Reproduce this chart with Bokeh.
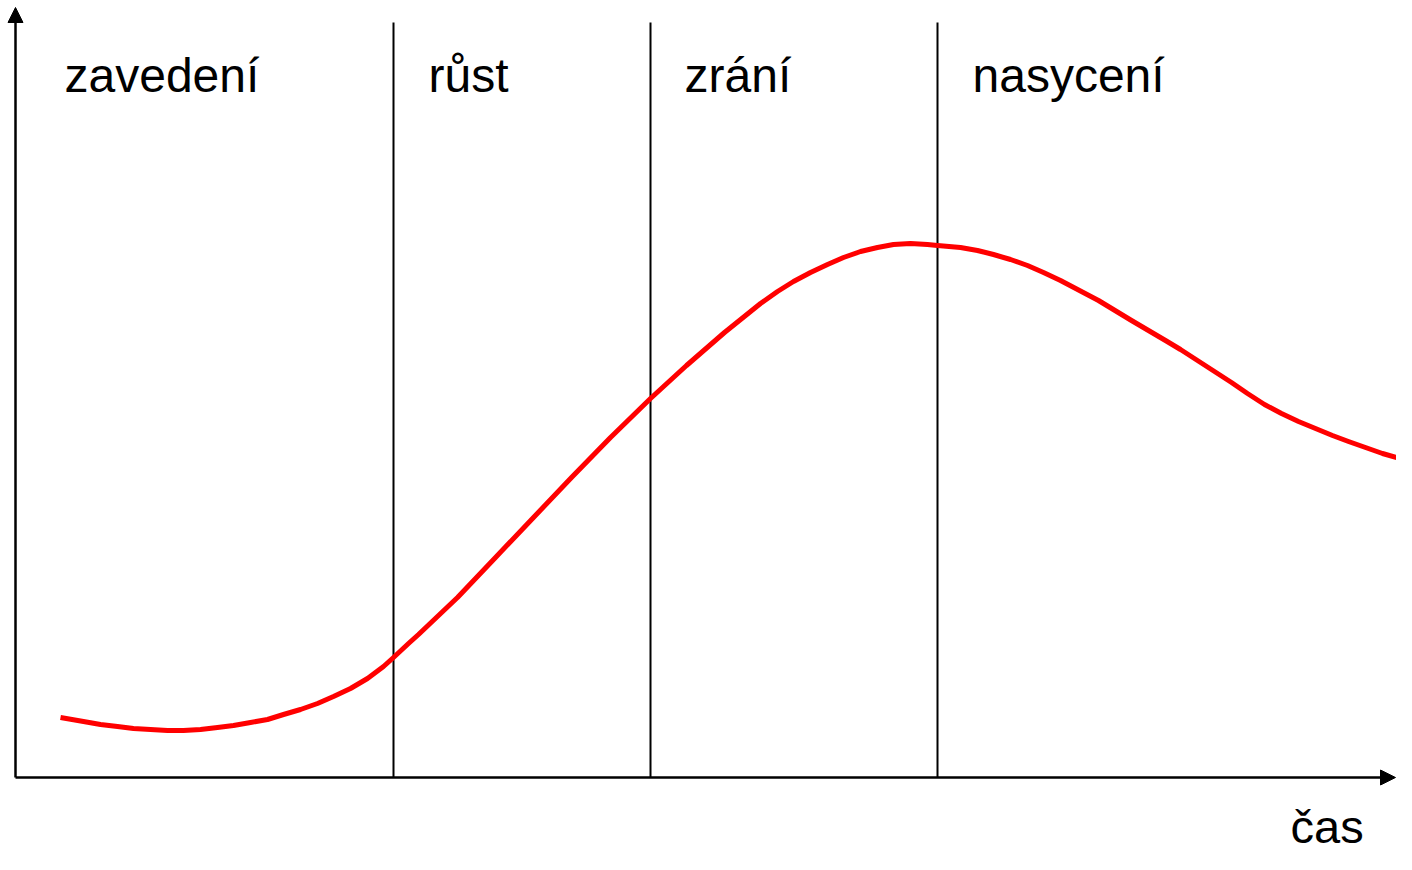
from bokeh.plotting import figure
from bokeh.models import Range1d, Arrow, NormalHead
from bokeh.core.properties import value
from bokeh.embed import file_html
from bokeh.resources import INLINE

# Product life cycle curve (time vs. sales)
time_vals = [45, 68, 85, 102, 118, 135, 152, 168, 185, 202, 218, 235, 252, 268,
             285, 302, 318, 335, 352, 368, 378, 393, 403, 442, 480, 518, 556,
             595, 635, 671, 709, 745, 762, 778, 795, 812, 828, 845, 862, 878,
             895, 912, 922, 945, 962, 978, 995, 1012, 1028, 1045, 1083, 1116,
             1150, 1165, 1182, 1199, 1216, 1232, 1249, 1266, 1283, 1300, 1317,
             1333, 1350, 1367, 1384, 1394]
sales_vals = [60, 56, 53, 51, 49, 48, 47, 47, 48, 50, 52, 55, 58, 63,
              68, 74, 81, 89, 99, 111, 120, 134, 143, 180, 220, 260, 300,
              340, 379, 412, 445, 474, 486, 496, 505, 513, 520, 526, 530, 533,
              534, 533, 532, 530, 527, 523, 518, 512, 505, 497, 477, 457,
              437, 428, 417, 406, 395, 384, 373, 364, 356, 349, 342,
              336, 330, 324, 319, 315]

# Phase boundaries and phase labels
phase_bounds = [378, 635, 922]
phase_top = 755
phase_labels = ["zavedení", "růst", "zrání", "nasycení"]
phase_label_t = [49, 413, 669, 957]
phase_label_y = [702, 702, 702, 702]
x_label = "čas"
x_label_t = [1275]
x_label_y = [-49]
axis_x_end = 1380
axis_y_end = 770

p = figure(width=1396, height=854, output_backend="svg", toolbar_location=None,
           x_range=Range1d(-15, 1381), y_range=Range1d(-77, 777),
           min_border=0, min_border_left=0, min_border_right=0,
           min_border_top=0, min_border_bottom=0)
p.axis.visible = False
p.xgrid.visible = False
p.ygrid.visible = False
p.outline_line_color = None
p.background_fill_color = "white"
p.border_fill_color = "white"

# phase separators
p.segment(x0=phase_bounds, y0=[0] * len(phase_bounds), x1=phase_bounds,
          y1=[phase_top] * len(phase_bounds), line_color="black", line_width=2)

# axes with arrows
p.add_layout(Arrow(end=NormalHead(size=15, fill_color="black", line_color="black"),
                   x_start=0, y_start=0, x_end=0, y_end=axis_y_end,
                   line_color="black", line_width=2.5))
p.add_layout(Arrow(end=NormalHead(size=15, fill_color="black", line_color="black"),
                   x_start=0, y_start=0, x_end=axis_x_end, y_end=0,
                   line_color="black", line_width=2.5))

# curve
p.line(time_vals, sales_vals, line_color="#ff0000", line_width=5,
       line_join="round", line_cap="butt")

# labels
p.text(x=phase_label_t, y=phase_label_y, text=phase_labels,
       text_font=value("Liberation Sans"), text_font_size="48px",
       text_color="black", text_align="left", text_baseline="alphabetic")
p.text(x=x_label_t, y=x_label_y, text=[x_label],
       text_font=value("Liberation Sans"), text_font_size="47px",
       text_color="black", text_align="left", text_baseline="alphabetic")

open("out.html", "w").write(file_html(p, INLINE))
